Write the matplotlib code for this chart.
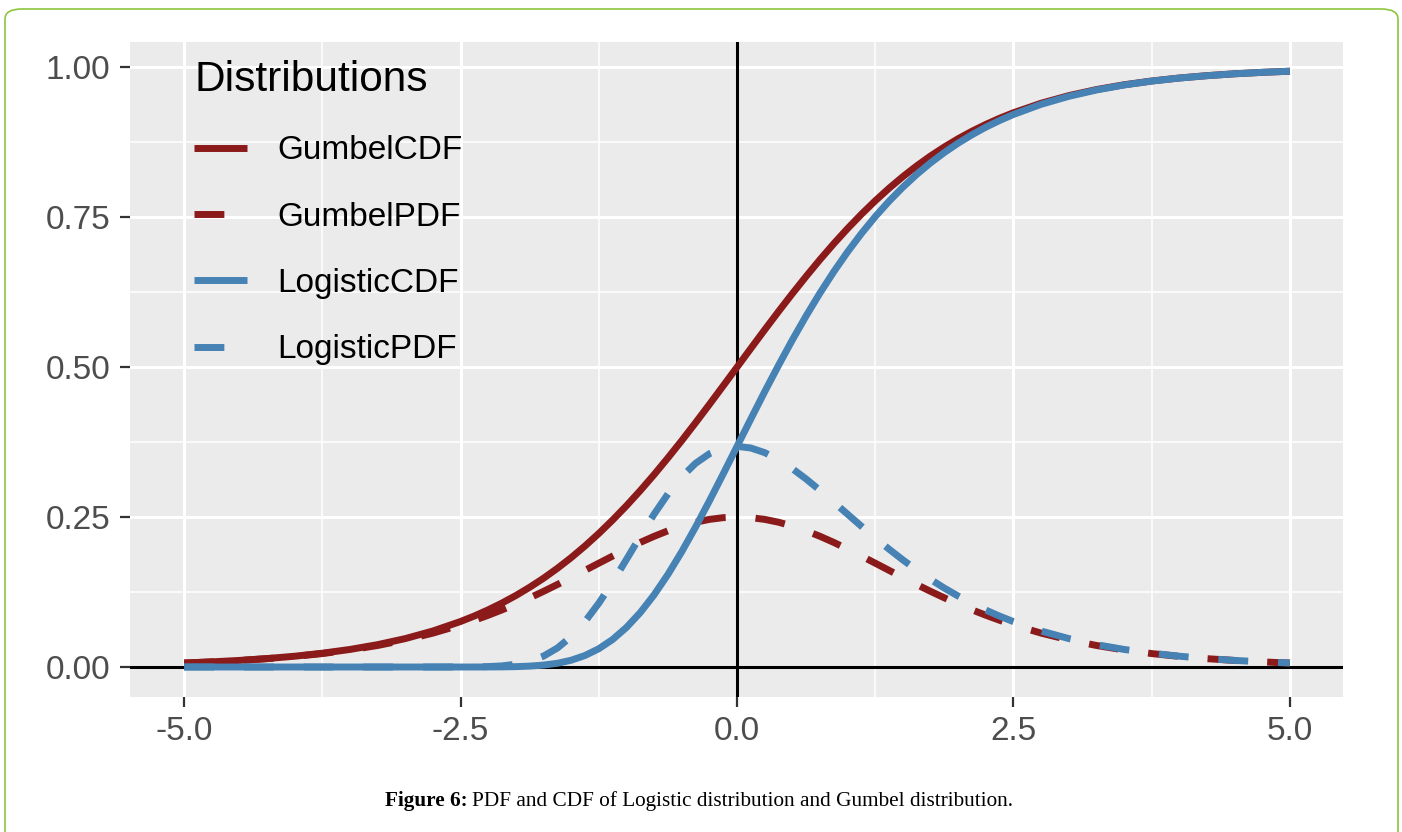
import numpy as np
import matplotlib
matplotlib.use("Agg")
import matplotlib.pyplot as plt
from matplotlib.patches import FancyBboxPatch

# sample grid along the x axis (finer in the middle where the curves bend)
x_vals = [-5.0, -4.75, -4.5, -4.25, -4.0, -3.75, -3.5, -3.25, -3.0, -2.75,
          -2.5, -2.375, -2.25, -2.125, -2.0, -1.875, -1.75, -1.625, -1.5, -1.375,
          -1.25, -1.125, -1.0, -0.875, -0.75, -0.625, -0.5, -0.375, -0.25, -0.125,
          0.0, 0.125, 0.25, 0.375, 0.5, 0.625, 0.75, 0.875, 1.0, 1.125,
          1.25, 1.375, 1.5, 1.625, 1.75, 1.875, 2.0, 2.125, 2.25, 2.375,
          2.5, 2.75, 3.0, 3.25, 3.5, 3.75, 4.0, 4.25, 4.5, 4.75, 5.0]

gumbel_cdf = [0.0067, 0.0086, 0.0110, 0.0141, 0.0180, 0.0230, 0.0293, 0.0373, 0.0474, 0.0601,
              0.0759, 0.0851, 0.0954, 0.1067, 0.1192, 0.1330, 0.1480, 0.1645, 0.1824, 0.2018,
              0.2227, 0.2451, 0.2689, 0.2942, 0.3208, 0.3487, 0.3775, 0.4073, 0.4378, 0.4688,
              0.5000, 0.5312, 0.5622, 0.5927, 0.6225, 0.6513, 0.6792, 0.7058, 0.7311, 0.7549,
              0.7773, 0.7982, 0.8176, 0.8355, 0.8520, 0.8670, 0.8808, 0.8933, 0.9046, 0.9149,
              0.9241, 0.9399, 0.9526, 0.9627, 0.9707, 0.9770, 0.9820, 0.9859, 0.9890, 0.9914, 0.9933]

gumbel_pdf = [0.0066, 0.0085, 0.0109, 0.0139, 0.0177, 0.0224, 0.0285, 0.0359, 0.0452, 0.0565,
              0.0701, 0.0779, 0.0863, 0.0953, 0.1050, 0.1153, 0.1261, 0.1375, 0.1492, 0.1611,
              0.1731, 0.1850, 0.1966, 0.2077, 0.2179, 0.2271, 0.2350, 0.2414, 0.2461, 0.2490,
              0.2500, 0.2490, 0.2461, 0.2414, 0.2350, 0.2271, 0.2179, 0.2077, 0.1966, 0.1850,
              0.1731, 0.1611, 0.1492, 0.1375, 0.1261, 0.1153, 0.1050, 0.0953, 0.0863, 0.0779,
              0.0701, 0.0565, 0.0452, 0.0359, 0.0285, 0.0224, 0.0177, 0.0139, 0.0109, 0.0085, 0.0066]

logistic_cdf = [0.0000, 0.0000, 0.0000, 0.0000, 0.0000, 0.0000, 0.0000, 0.0000, 0.0000, 0.0000,
                0.0000, 0.0000, 0.0001, 0.0002, 0.0006, 0.0015, 0.0032, 0.0062, 0.0113, 0.0192,
                0.0305, 0.0459, 0.0660, 0.0908, 0.1204, 0.1544, 0.1923, 0.2334, 0.2769, 0.3220,
                0.3679, 0.4137, 0.4590, 0.5029, 0.5452, 0.5855, 0.6235, 0.6591, 0.6922, 0.7228,
                0.7509, 0.7766, 0.8000, 0.8213, 0.8405, 0.8578, 0.8734, 0.8874, 0.9000, 0.9112,
                0.9212, 0.9381, 0.9514, 0.9620, 0.9703, 0.9768, 0.9819, 0.9858, 0.9890, 0.9914, 0.9933]

logistic_pdf = [0.0000, 0.0000, 0.0000, 0.0000, 0.0000, 0.0000, 0.0000, 0.0000, 0.0000, 0.0000,
                0.0001, 0.0002, 0.0007, 0.0019, 0.0046, 0.0096, 0.0182, 0.0316, 0.0507, 0.0758,
                0.1064, 0.1415, 0.1794, 0.2179, 0.2549, 0.2885, 0.3171, 0.3396, 0.3556, 0.3649,
                0.3679, 0.3651, 0.3574, 0.3457, 0.3307, 0.3134, 0.2945, 0.2748, 0.2547, 0.2346,
                0.2151, 0.1964, 0.1785, 0.1617, 0.1461, 0.1315, 0.1182, 0.1060, 0.0949, 0.0848,
                0.0756, 0.0600, 0.0474, 0.0373, 0.0293, 0.0230, 0.0180, 0.0141, 0.0110, 0.0086, 0.0067]

series = [
    ("GumbelCDF", gumbel_cdf, "#8B1A1A", "solid"),
    ("GumbelPDF", gumbel_pdf, "#8B1A1A", "dashed"),
    ("LogisticCDF", logistic_cdf, "#4682B4", "solid"),
    ("LogisticPDF", logistic_pdf, "#4682B4", "dashed"),
]

x_major = [-5.0, -2.5, 0.0, 2.5, 5.0]
y_major = [0.0, 0.25, 0.5, 0.75, 1.0]

plt.rcParams["font.family"] = ["Liberation Sans", "DejaVu Sans"]

fig = plt.figure(figsize=(14.02, 8.32), dpi=100)

# outer frame
frame = FancyBboxPatch((5 / 1402, -0.1), 1393 / 1402, 0.1 + 823 / 832,
                       boxstyle="round,pad=0,rounding_size=0.012",
                       transform=fig.transFigure, facecolor="none",
                       edgecolor="#8DC63F", linewidth=1.2, zorder=-1)
fig.patches.append(frame)

ax = fig.add_axes([130 / 1402, 1 - 697 / 832, 1213 / 1402, 655 / 832])
ax.set_zorder(1)
ax.set_facecolor("#EBEBEB")
for s in ax.spines.values():
    s.set_visible(False)

ax.set_xlim(-5.49, 5.48)
ax.set_ylim(-0.05, 1.042)
ax.set_xticks(x_major)
ax.set_xticklabels(["-5.0", "-2.5", "0.0", "2.5", "5.0"])
ax.set_yticks(y_major)
ax.set_yticklabels(["0.00", "0.25", "0.50", "0.75", "1.00"])
ax.set_xticks([-3.75, -1.25, 1.25, 3.75], minor=True)
ax.set_yticks([0.125, 0.375, 0.625, 0.875], minor=True)
ax.tick_params(which="major", length=7, width=1.6, color="#333333",
               labelsize=24, labelcolor="#4D4D4D", pad=7)
ax.tick_params(which="minor", length=0)
ax.grid(which="major", color="white", linewidth=2.2)
ax.grid(which="minor", color="white", linewidth=1.1)
ax.set_axisbelow(True)

ax.axhline(0, color="black", linewidth=2.2, zorder=2)
ax.axvline(0, color="black", linewidth=2.2, zorder=2)

for name, vals, color, style in series:
    line, = ax.plot(x_vals, vals, color=color, linewidth=5, label=name,
                    solid_capstyle="butt", dash_capstyle="butt", zorder=3)
    if style == "dashed":
        line.set_dashes([4.3, 4.3])

leg = ax.legend(loc="upper left", bbox_to_anchor=(64 / 1213, (697 - 60) / 655),
                frameon=False, title="Distributions", fontsize=24,
                title_fontsize=30.5, handlelength=1.6, handletextpad=0.9,
                labelspacing=1.06, alignment="left", borderaxespad=0,
                borderpad=0)

# caption: bold label followed by plain text, centred as one line
cap_y = 1 - 806 / 832
cap_bold = fig.text(0, cap_y, "Figure 6:", fontsize=15.3, fontweight="bold",
                    family="Liberation Serif", va="baseline")
cap_rest = fig.text(0, cap_y,
                    "PDF and CDF of Logistic distribution and Gumbel distribution.",
                    fontsize=15.3, family="Liberation Serif", va="baseline")
fig.canvas.draw()
rend = fig.canvas.get_renderer()
w_bold = cap_bold.get_window_extent(rend).width
w_rest = cap_rest.get_window_extent(rend).width
x0 = 699 - (w_bold + 4 + w_rest) / 2
cap_bold.set_x(x0 / 1402)
cap_rest.set_x((x0 + w_bold + 4) / 1402)

fig.savefig("out.png", dpi=100)
